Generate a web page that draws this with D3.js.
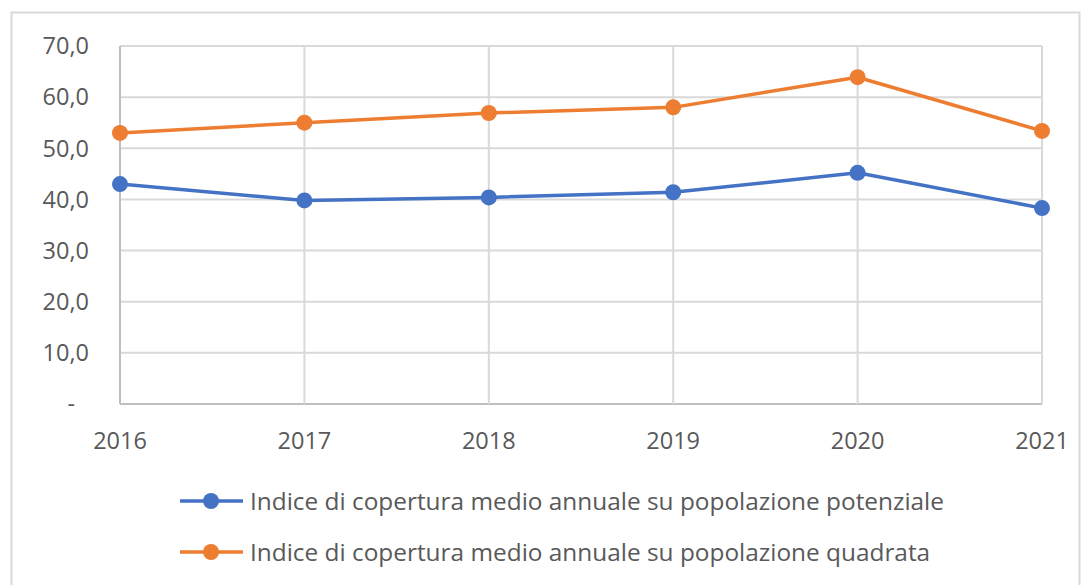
<!DOCTYPE html>
<html>
<head>
<meta charset="utf-8">
<script src="https://cdn.jsdelivr.net/npm/d3@7"></script>
<style>
  body { margin: 0; background: #fff; }
  text { font-family: "Open Sans", sans-serif; fill: #595959; }
</style>
</head>
<body>
<svg id="chart"></svg>
<script>
// dati
var years = ["2016", "2017", "2018", "2019", "2020", "2021"];
var potenziale = [43.0, 39.8, 40.4, 41.4, 45.2, 38.3];
var quadrata = [53.0, 55.0, 56.9, 58.0, 63.9, 53.4];
var seriesNames = [
  "Indice di copertura medio annuale su popolazione potenziale",
  "Indice di copertura medio annuale su popolazione quadrata"
];
var yTicks = [0, 10, 20, 30, 40, 50, 60, 70];

var svgWidth = 1090, svgHeight = 585;
var colorArr = ["#4472C4", "#ED7D31"];
var plotLeft = 120, plotRight = 1042, plotTop = 46, plotBottom = 404;

var svg = d3.select("#chart")
  .attr("width", svgWidth)
  .attr("height", svgHeight);

// cornice esterna
svg.append("rect")
  .attr("x", 11.5).attr("y", 12.5)
  .attr("width", 1068).attr("height", 600)
  .attr("fill", "none").attr("stroke", "#d9d9d9").attr("stroke-width", 2);

var x = d3.scalePoint().domain(years).range([plotLeft, plotRight]);
var y = d3.scaleLinear().domain([0, 70]).range([plotBottom, plotTop]);

// griglia orizzontale
svg.append("g")
  .selectAll("line").data(yTicks).enter().append("line")
  .attr("x1", plotLeft).attr("x2", plotRight)
  .attr("y1", function(d) { return y(d); })
  .attr("y2", function(d) { return y(d); })
  .attr("stroke", function(d) { return d === 0 ? "#bfbfbf" : "#d9d9d9"; })
  .attr("stroke-width", 2);

// griglia verticale
svg.append("g")
  .selectAll("line").data(years).enter().append("line")
  .attr("x1", function(d) { return x(d); })
  .attr("x2", function(d) { return x(d); })
  .attr("y1", plotTop).attr("y2", plotBottom)
  .attr("stroke", function(d, i) { return i === 0 ? "#bfbfbf" : "#d9d9d9"; })
  .attr("stroke-width", 2);

// etichette asse y
svg.append("g")
  .selectAll("text").data(yTicks).enter().append("text")
  .attr("x", function(d) { return d === 0 ? 75 : 89; })
  .attr("y", function(d) { return y(d); })
  .attr("dy", "0.35em")
  .attr("text-anchor", "end")
  .style("font-size", "23.5px")
  .text(function(d) { return d === 0 ? "-" : d3.format(".1f")(d).replace(".", ","); });

// etichette asse x
svg.append("g")
  .selectAll("text").data(years).enter().append("text")
  .attr("x", function(d) { return x(d); })
  .attr("y", 449)
  .attr("text-anchor", "middle")
  .style("font-size", "23.5px")
  .text(function(d) { return d; });

var line = d3.line()
  .x(function(d, i) { return x(years[i]); })
  .y(function(d) { return y(d); });

[potenziale, quadrata].forEach(function(data, s) {
  var g = svg.append("g");
  g.append("path")
    .datum(data)
    .attr("d", line)
    .attr("fill", "none")
    .attr("stroke", colorArr[s])
    .attr("stroke-width", 3.5)
    .attr("stroke-linejoin", "round");
  g.selectAll("circle").data(data).enter().append("circle")
    .attr("cx", function(d, i) { return x(years[i]); })
    .attr("cy", function(d) { return y(d); })
    .attr("r", 8)
    .attr("fill", colorArr[s]);
});

// legenda
var legend = svg.append("g")
  .selectAll("g").data(seriesNames).enter().append("g")
  .attr("transform", function(d, i) { return "translate(180," + (501 + i * 51) + ")"; });
legend.append("line")
  .attr("x1", 0).attr("x2", 63)
  .attr("stroke", function(d, i) { return colorArr[i]; })
  .attr("stroke-width", 3.5);
legend.append("circle")
  .attr("cx", 31).attr("r", 8)
  .attr("fill", function(d, i) { return colorArr[i]; });
legend.append("text")
  .attr("x", 70).attr("dy", "0.35em")
  .style("font-size", "24.4px")
  .text(function(d) { return d; });
</script>
</body>
</html>
